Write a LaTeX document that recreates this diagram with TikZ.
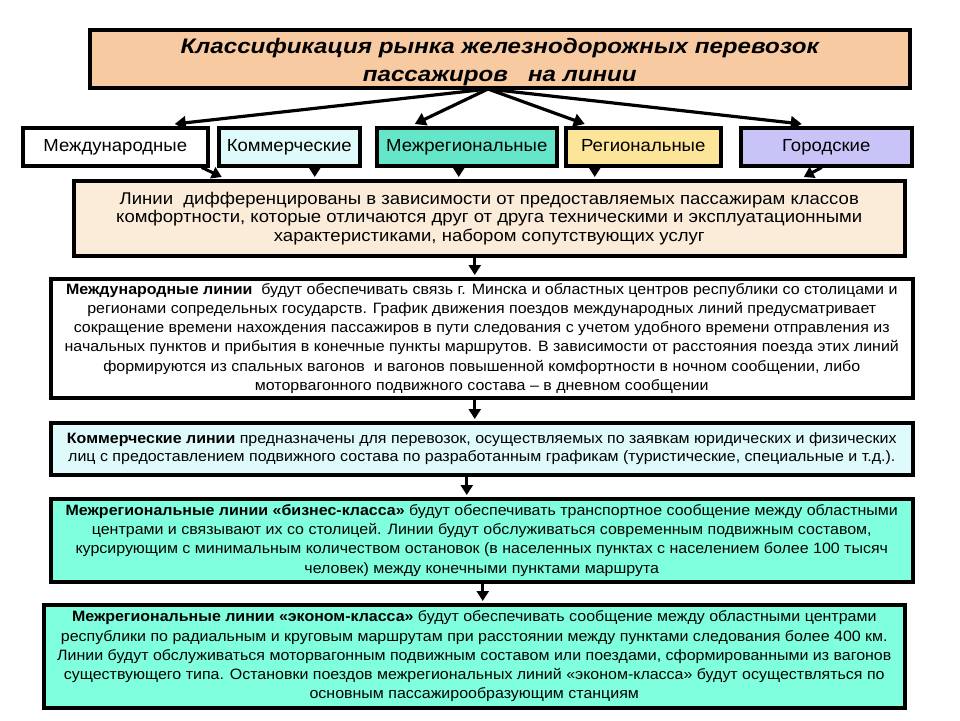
\documentclass[tikz,border=0pt]{standalone}
\usepackage{fontspec}
\setmainfont[FakeStretch=1.065]{Liberation Sans}
\newfontfamily\titlefont[FakeStretch=1.15]{Liberation Sans}
\newfontfamily\linesfont[FakeStretch=1.09]{Liberation Sans}
\newfontfamily\rowfont[FakeStretch=1.06]{Liberation Sans}
\usetikzlibrary{arrows.meta,shadows}
\definecolor{cTitle}{RGB}{248,202,162}
\definecolor{cLines}{RGB}{251,236,218}
\definecolor{cComm}{RGB}{222,250,250}
\definecolor{cMezh}{RGB}{102,230,200}
\definecolor{cMezhBox}{RGB}{128,255,222}
\definecolor{cReg}{RGB}{252,228,152}
\definecolor{cGor}{RGB}{200,196,248}
\tikzset{
  box/.style={draw=black, line width=3.5pt, anchor=north west, inner sep=0pt, align=center, text=black,
    drop shadow={shadow xshift=2pt, shadow yshift=-2pt, fill=black!25, opacity=0.6}},
  bodytext/.style={font=\fontsize{15}{19.2}\selectfont},
  rowtext/.style={font=\rowfont\fontsize{17.5}{20}\selectfont, text height=13pt, text depth=4pt},
  bigarrow/.style={line width=3.2pt, -{Triangle[length=11pt,width=13pt]}},
  smallarrow/.style={line width=3pt, -{Triangle[length=10pt,width=12pt]}}
}
\begin{document}
\begin{tikzpicture}[x=1pt,y=-1pt]
\useasboundingbox[fill=white] (0,0) rectangle (960,720);
% title
\node[box, fill=cTitle, minimum width=820pt, minimum height=58pt,
  font=\titlefont\fontsize{21}{28}\selectfont\bfseries\itshape] (title) at (88,28)
  {\rule{0pt}{21pt}Классификация рынка железнодорожных перевозок\\пассажиров \ \ на линии};
% row
\node[box, rowtext, fill=white, minimum width=185pt, minimum height=38pt] (intl) at (21,126) {Международные};
\node[box, rowtext, fill=cComm, minimum width=141pt, minimum height=38pt] (comm) at (217,126) {Коммерческие};
\node[box, rowtext, fill=cMezh, minimum width=180pt, minimum height=38pt] (mezh) at (375,126) {Межрегиональные};
\node[box, rowtext, fill=cReg, minimum width=155pt, minimum height=38pt] (reg) at (564,126) {Региональные};
\node[box, rowtext, fill=cGor, minimum width=171pt, minimum height=38pt] (gor) at (739,126) {Городские};
% lines box
\node[box, fill=cLines, minimum width=831pt, minimum height=75pt,
  font=\linesfont\fontsize{17}{18.4}\selectfont] (lines) at (72,179)
  {Линии \ дифференцированы в зависимости от предоставляемых пассажирам классов\\
   комфортности, которые отличаются друг от друга техническими и эксплуатационными\\
   характеристиками, набором сопутствующих услуг};
% box3
\node[box, bodytext, fill=white, minimum width=862pt, minimum height=119pt] (b3) at (49,277)
  {\textbf{Международные линии} \ будут обеспечивать связь г. Минска и областных центров республики со столицами и\\
   регионами сопредельных государств. График движения поездов международных линий предусматривает\\
   сокращение времени нахождения пассажиров в пути следования с учетом удобного времени отправления из\\
   начальных пунктов и прибытия в конечные пункты маршрутов. В зависимости от расстояния поезда этих линий\\
   формируются из спальных вагонов \ и вагонов повышенной комфортности в ночном сообщении, либо\\
   моторвагонного подвижного состава – в дневном сообщении};
% box4
\node[box, bodytext, fill=cComm, minimum width=862pt, minimum height=52pt,
  font=\fontsize{15}{18.4}\selectfont] (b4) at (49,421)
  {\textbf{Коммерческие линии} предназначены для перевозок, осуществляемых по заявкам юридических и физических\\
   лиц с предоставлением подвижного состава по разработанным графикам (туристические, специальные и т.д.).};
% box5
\node[box, bodytext, fill=cMezhBox, minimum width=862pt, minimum height=83pt] (b5) at (49,497)
  {\textbf{Межрегиональные линии «бизнес-класса»} будут обеспечивать транспортное сообщение между областными\\
   центрами и связывают их со столицей. Линии будут обслуживаться современным подвижным составом,\\
   курсирующим с минимальным количеством остановок (в населенных пунктах с населением более 100 тысяч\\
   человек) между конечными пунктами маршрута};
% box6
\node[box, bodytext, fill=cMezhBox, minimum width=861pt, minimum height=103pt] (b6) at (42,603)
  {\textbf{Межрегиональные линии «эконом-класса»} будут обеспечивать сообщение между областными центрами\\
   республики по радиальным и круговым маршрутам при расстоянии между пунктами следования более 400 км.\\
   Линии будут обслуживаться моторвагонным подвижным составом или поездами, сформированными из вагонов\\
   существующего типа. Остановки поездов межрегиональных линий «эконом-класса» будут осуществляться по\\
   основным пассажирообразующим станциям};
% connectors
\coordinate (hub) at (488,89);
\draw[bigarrow] (hub) -- ([xshift=59.5pt,yshift=2pt]intl.north);
\draw[bigarrow] (hub) -- ([xshift=-52pt,yshift=2pt]mezh.north);
\draw[bigarrow] (hub) -- ([xshift=-58.5pt,yshift=2pt]reg.north);
\draw[bigarrow] (hub) -- ([xshift=-24.5pt,yshift=2pt]gor.north);
\draw[smallarrow] ([xshift=86.5pt]intl.south) -- ([xshift=-267.5pt,yshift=2pt]lines.north);
\draw[smallarrow] ([xshift=25.5pt]comm.south) -- ([xshift=-174.5pt,yshift=2pt]lines.north);
\draw[smallarrow] ([xshift=-8pt]mezh.south) -- ([xshift=-30.5pt,yshift=2pt]lines.north);
\draw[smallarrow] ([xshift=-48.5pt]reg.south) -- ([xshift=105.5pt,yshift=2pt]lines.north);
\draw[smallarrow] ([xshift=-4.5pt]gor.south) -- ([xshift=314.5pt,yshift=2pt]lines.north);
\draw[smallarrow] ([xshift=-14.5pt]lines.south) -- ([xshift=-7pt,yshift=2pt]b3.north);
\draw[smallarrow] ([xshift=-7pt]b3.south) -- ([xshift=-7pt,yshift=2pt]b4.north);
\draw[smallarrow] ([xshift=-15pt]b4.south) -- ([xshift=-15pt,yshift=2pt]b5.north);
\draw[smallarrow] ([xshift=1pt]b5.south) -- ([xshift=8.5pt,yshift=2pt]b6.north);
\end{tikzpicture}
\end{document}
